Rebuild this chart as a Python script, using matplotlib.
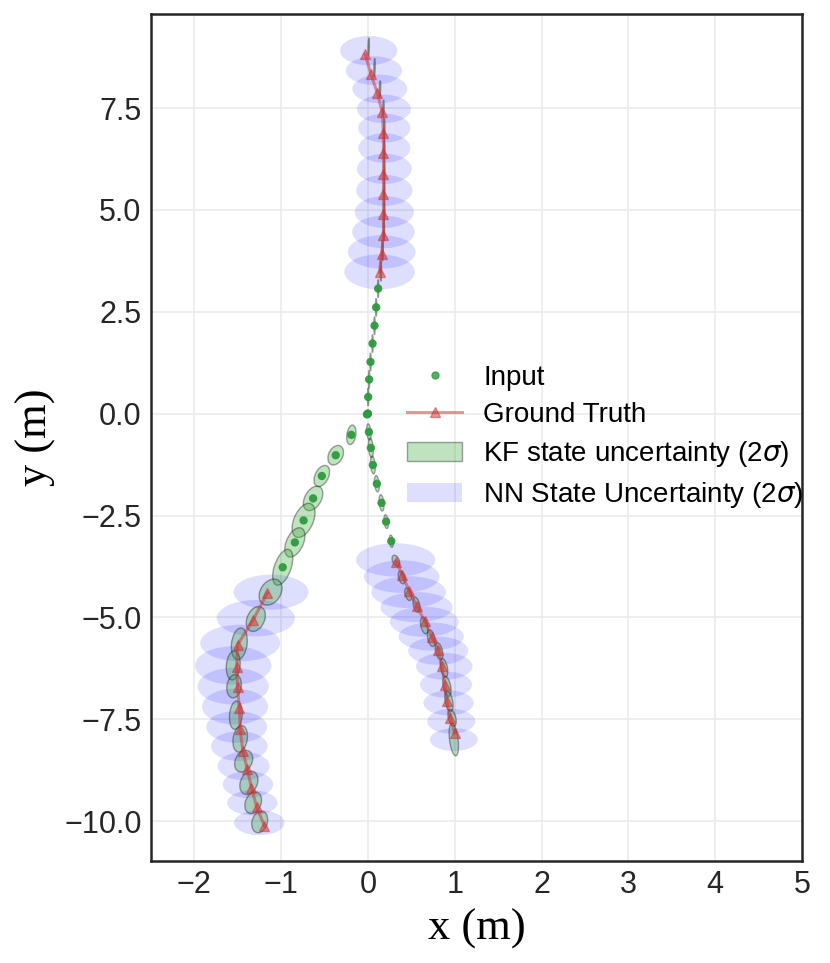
import numpy as np
import matplotlib.pyplot as plt
from matplotlib.patches import Ellipse, Patch
from matplotlib.lines import Line2D

# ---- trajectory going up (top) ----
inA_x = [-0.01, 0.004, 0.015, 0.031, 0.054, 0.077, 0.096, 0.119]
inA_y = [-0.02, 0.41, 0.84, 1.27, 1.72, 2.16, 2.61, 3.07]
kfinA_sx = [0.003, 0.004, 0.004, 0.004, 0.004, 0.004, 0.004, 0.004]
kfinA_sy = [0.02, 0.11, 0.11, 0.11, 0.11, 0.11, 0.11, 0.11]
kfinA_rho = [0, 0, 0, 0, 0, 0, 0, 0]

gtA_x = [-0.03, 0.035, 0.11, 0.165, 0.18, 0.18, 0.18, 0.18, 0.18, 0.18, 0.158, 0.135]
gtA_y = [8.82, 8.33, 7.87, 7.40, 6.90, 6.40, 5.89, 5.38, 4.89, 4.38, 3.93, 3.48]

nnA_x = [0.01, 0.07, 0.138, 0.185, 0.19, 0.19, 0.19, 0.19, 0.19, 0.18, 0.16, 0.135]
nnA_y = [8.91, 8.42, 7.97, 7.48, 7.01, 6.52, 6.01, 5.48, 4.95, 4.46, 3.97, 3.48]
nnA_sx = [0.165, 0.162, 0.158, 0.155, 0.15, 0.15, 0.158, 0.162, 0.17, 0.18, 0.195, 0.203]
nnA_sy = [0.18, 0.175, 0.175, 0.175, 0.178, 0.18, 0.185, 0.19, 0.195, 0.2, 0.205, 0.215]

kfA_x = [0.01, 0.077, 0.14, 0.18, 0.19, 0.19, 0.19, 0.19, 0.19, 0.185, 0.17, 0.15]
kfA_y = [9.0, 8.49, 7.97, 7.5, 7.0, 6.5, 6.0, 5.5, 5.0, 4.5, 4.0, 3.5]
kfA_sx = [0.004] * 12
kfA_sy = [0.11, 0.115, 0.1, 0.1, 0.125, 0.125, 0.125, 0.125, 0.125, 0.125, 0.125, 0.125]
kfA_rho = [0.3, 0.3, 0.3, 0.2, 0, 0, 0, 0, 0, 0, 0, 0]

# ---- right branch ----
inB_x = [0.0, 0.012, 0.035, 0.058, 0.104, 0.158, 0.211, 0.27]
inB_y = [0.0, -0.45, -0.84, -1.26, -1.72, -2.19, -2.65, -3.13]
kfinB_sx = [0.003, 0.013, 0.014, 0.014, 0.014, 0.014, 0.013, 0.012]
kfinB_sy = [0.02, 0.1, 0.12, 0.11, 0.1, 0.1, 0.085, 0.075]
kfinB_rho = [0, -0.3, -0.3, -0.3, -0.3, -0.3, -0.3, -0.3]

gtB_x = [0.323, 0.396, 0.477, 0.565, 0.657, 0.734, 0.81, 0.853, 0.888, 0.911, 0.95, 1.0]
gtB_y = [-3.63, -3.95, -4.36, -4.73, -5.10, -5.47, -5.79, -6.20, -6.65, -7.06, -7.47, -7.84]

nnB_x = [0.32, 0.39, 0.47, 0.56, 0.65, 0.73, 0.81, 0.88, 0.9, 0.93, 0.96, 0.99]
nnB_y = [-3.59, -4.0, -4.38, -4.75, -5.11, -5.47, -5.82, -6.2, -6.65, -7.1, -7.55, -8.0]
nnB_sx = [0.228, 0.218, 0.215, 0.208, 0.198, 0.188, 0.173, 0.163, 0.15, 0.145, 0.138, 0.138]
nnB_sy = [0.205, 0.2, 0.195, 0.185, 0.185, 0.173, 0.173, 0.165, 0.16, 0.153, 0.153, 0.14]

kfB_x = [0.323, 0.39, 0.465, 0.56, 0.65, 0.73, 0.82, 0.877, 0.91, 0.934, 0.97, 0.99]
kfB_y = [-3.61, -4.02, -4.43, -4.69, -5.2, -5.51, -5.83, -6.24, -6.69, -7.06, -7.47, -8.0]
kfB_sx = [0.022, 0.02, 0.02, 0.02, 0.022, 0.022, 0.022, 0.022, 0.024, 0.024, 0.024, 0.027]
kfB_sy = [0.068, 0.078, 0.078, 0.093, 0.103, 0.103, 0.103, 0.113, 0.123, 0.123, 0.103, 0.2]
kfB_rho = [-0.4] * 12

# ---- left branch ----
inC_x = [0.0, -0.19, -0.37, -0.53, -0.63, -0.74, -0.84, -0.98]
inC_y = [0.0, -0.52, -1.02, -1.53, -2.08, -2.62, -3.16, -3.77]
kfinC_sx = [0.003, 0.027, 0.045, 0.045, 0.056, 0.066, 0.058, 0.058]
kfinC_sy = [0.02, 0.12, 0.12, 0.13, 0.15, 0.21, 0.18, 0.22]
kfinC_rho = [0, 0.25, 0.3, 0.4, 0.4, 0.45, 0.45, 0.5]

gtC_x = [-1.157, -1.32, -1.50, -1.51, -1.50, -1.48, -1.47, -1.44, -1.39, -1.34, -1.28, -1.19]
gtC_y = [-4.40, -5.06, -5.67, -6.23, -6.72, -7.22, -7.75, -8.27, -8.71, -9.18, -9.66, -10.12]

nnC_x = [-1.115, -1.29, -1.47, -1.55, -1.55, -1.53, -1.51, -1.48, -1.43, -1.38, -1.33, -1.25]
nnC_y = [-4.38, -5.02, -5.63, -6.18, -6.69, -7.19, -7.69, -8.16, -8.65, -9.1, -9.55, -10.04]
nnC_sx = [0.216, 0.225, 0.23, 0.22, 0.205, 0.19, 0.175, 0.163, 0.15, 0.145, 0.145, 0.145]
nnC_sy = [0.215, 0.223, 0.225, 0.235, 0.225, 0.22, 0.195, 0.183, 0.173, 0.165, 0.153, 0.153]

kfC_x = [-1.12, -1.29, -1.48, -1.55, -1.54, -1.52, -1.47, -1.43, -1.37, -1.32, -1.245]
kfC_y = [-4.38, -5.04, -5.65, -6.18, -6.69, -7.4, -7.98, -8.53, -9.06, -9.55, -10.02]
kfC_sx = [0.066, 0.055, 0.046, 0.04, 0.042, 0.037, 0.042, 0.052, 0.052, 0.048, 0.046]
kfC_sy = [0.16, 0.153, 0.195, 0.178, 0.143, 0.175, 0.163, 0.133, 0.143, 0.133, 0.133]
kfC_rho = [0.3, 0.3, 0.2, 0.15, 0.15, 0.15, 0.2, 0.25, 0.25, 0.25, 0.2]

NN_FACE = (0.0, 0.0, 1.0, 0.13)
KF_FACE = (0.17, 0.63, 0.17, 0.3)
KF_EDGE = (0.0, 0.0, 0.0, 0.35)
GT_COLOR = '#cc3333'


def cov_ellipse(ax, x, y, sx, sy, rho, **kw):
    # 2 sigma ellipse from a 2x2 covariance
    cov = np.array([[sx * sx, rho * sx * sy], [rho * sx * sy, sy * sy]])
    vals, vecs = np.linalg.eigh(cov)
    ang = np.degrees(np.arctan2(vecs[1, 1], vecs[0, 1]))
    e = Ellipse((x, y), 4 * np.sqrt(vals[1]), 4 * np.sqrt(max(vals[0], 0)), angle=ang, **kw)
    ax.add_patch(e)


plt.rcParams['font.family'] = ['Liberation Sans', 'DejaVu Sans']
fig = plt.figure(figsize=(8.3, 9.63), dpi=100)
ax = fig.add_axes([0.1816, 0.1059, 0.7847, 0.8796])

# NN uncertainty
for xs, ys, sxs, sys_ in [(nnA_x, nnA_y, nnA_sx, nnA_sy),
                          (nnB_x, nnB_y, nnB_sx, nnB_sy),
                          (nnC_x, nnC_y, nnC_sx, nnC_sy)]:
    for i in range(len(xs)):
        cov_ellipse(ax, xs[i], ys[i], sxs[i], sys_[i], 0.0, facecolor=NN_FACE, edgecolor='none', zorder=2)

# KF uncertainty (inputs + predictions)
for xs, ys, sxs, sys_, rhos in [(inA_x, inA_y, kfinA_sx, kfinA_sy, kfinA_rho),
                                (inB_x, inB_y, kfinB_sx, kfinB_sy, kfinB_rho),
                                (inC_x, inC_y, kfinC_sx, kfinC_sy, kfinC_rho),
                                (kfA_x, kfA_y, kfA_sx, kfA_sy, kfA_rho),
                                (kfB_x, kfB_y, kfB_sx, kfB_sy, kfB_rho),
                                (kfC_x, kfC_y, kfC_sx, kfC_sy, kfC_rho)]:
    for i in range(len(xs)):
        cov_ellipse(ax, xs[i], ys[i], sxs[i], sys_[i], rhos[i],
                    facecolor=KF_FACE, edgecolor=KF_EDGE, lw=1.0, zorder=3)

# inputs
for xs, ys in [(inA_x, inA_y), (inB_x, inB_y), (inC_x, inC_y)]:
    ax.scatter(xs, ys, s=36, color='#2e9a3e', alpha=0.95, edgecolors='none', zorder=4)

# ground truth
for xs, ys in [(gtA_x, gtA_y), (gtB_x, gtB_y), (gtC_x, gtC_y)]:
    ax.plot(xs, ys, '-^', color=GT_COLOR, alpha=0.5, lw=2.2, ms=7, zorder=5)

ax.set_xlim(-2.5, 5)
ax.set_ylim(-10.98, 9.81)
ax.set_xticks([-2, -1, 0, 1, 2, 3, 4, 5])
ax.set_yticks([-10, -7.5, -5, -2.5, 0, 2.5, 5, 7.5])
ax.grid(True, color='#ebebeb', lw=1.2, zorder=0)
ax.set_axisbelow(True)
ax.tick_params(length=0, pad=6.5, labelsize=22, colors='#262626')
for s in ax.spines.values():
    s.set_color('#262626')
    s.set_linewidth(1.8)

ax.set_xlabel('x (m)', family='Liberation Serif', fontsize=32, labelpad=6)
ax.set_ylabel('y (m)', family='Liberation Serif', fontsize=32, labelpad=6)

handles = [
    Line2D([], [], marker='o', ls='none', color='#2e9a3e', alpha=0.8, ms=5),
    Line2D([], [], marker='^', color=GT_COLOR, alpha=0.5, lw=2.2, ms=7),
    Patch(facecolor=KF_FACE, edgecolor=KF_EDGE),
    Patch(facecolor=NN_FACE, edgecolor='none'),
]
labels = ['Input', 'Ground Truth', 'KF state uncertainty (2$\\sigma$)', 'NN State Uncertainty (2$\\sigma$)']
ax.legend(handles, labels, loc='center left', bbox_to_anchor=(0.376, 0.5), borderaxespad=0,
          frameon=False, fontsize=20, handlelength=2.0, handletextpad=0.75, labelspacing=0.4)

fig.savefig('out.png', dpi=100)
